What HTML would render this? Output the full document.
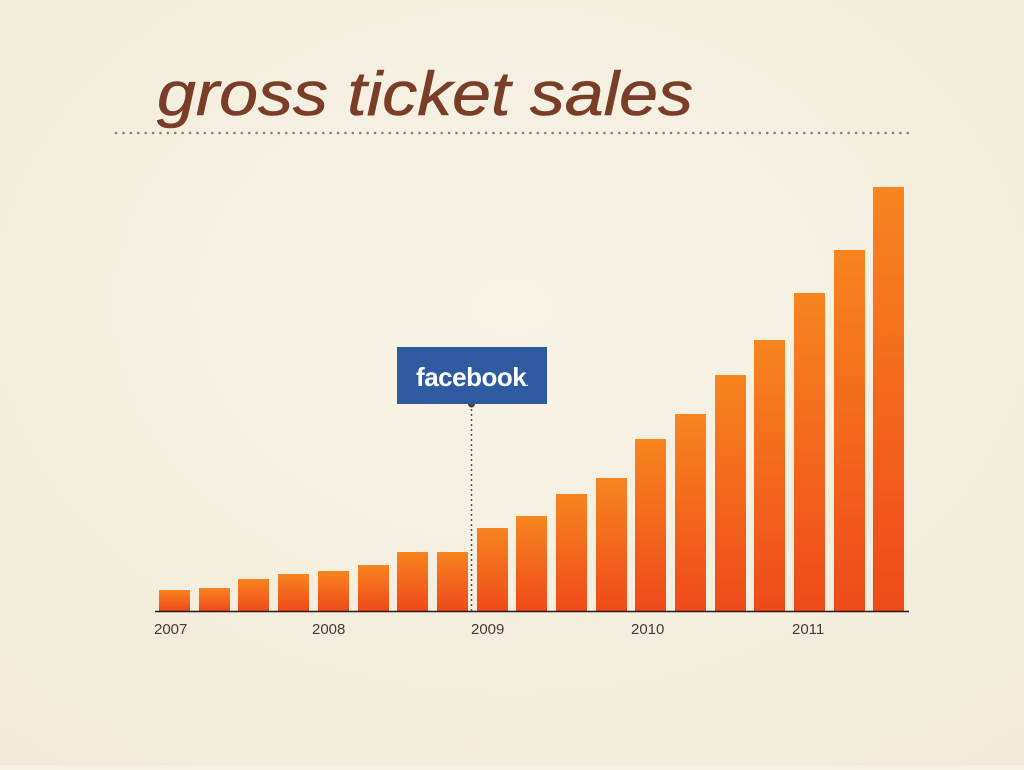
<!DOCTYPE html>
<html><head><style>
body{margin:0;width:1024px;height:765px;background:#f5f0e2;overflow:hidden;font-family:"Liberation Sans",sans-serif}
</style></head><body>
<svg width="1024" height="765" xmlns="http://www.w3.org/2000/svg">
<defs>
<linearGradient id="g" x1="0" y1="0" x2="0" y2="1">
<stop offset="0" stop-color="#f7851f"/><stop offset="1" stop-color="#ef4a1a"/>
</linearGradient>
<radialGradient id="bg" cx="0.5" cy="0.4" r="0.8"><stop offset="0" stop-color="#f7f3e6"/><stop offset="1" stop-color="#f1ead8"/></radialGradient>
</defs>
<rect width="1024" height="765" fill="url(#bg)"/>
<text x="157" y="115" font-family="Liberation Sans, sans-serif" font-style="italic" font-size="62" fill="#7a3e28" stroke="#7a3e28" stroke-width="0.6" textLength="536" lengthAdjust="spacingAndGlyphs">gross ticket sales</text>
<line x1="116" y1="133" x2="910" y2="133" stroke="#8a7f70" stroke-width="2.5" stroke-linecap="round" stroke-dasharray="0.1 7.3"/>
<g fill="url(#g)">
<rect x="159" y="590" width="31" height="21"/>
<rect x="199" y="588" width="31" height="23"/>
<rect x="238" y="579" width="31" height="32"/>
<rect x="278" y="574" width="31" height="37"/>
<rect x="318" y="571" width="31" height="40"/>
<rect x="358" y="565" width="31" height="46"/>
<rect x="397" y="552" width="31" height="59"/>
<rect x="437" y="552" width="31" height="59"/>
<rect x="477" y="528" width="31" height="83"/>
<rect x="516" y="516" width="31" height="95"/>
<rect x="556" y="494" width="31" height="117"/>
<rect x="596" y="478" width="31" height="133"/>
<rect x="635" y="439" width="31" height="172"/>
<rect x="675" y="414" width="31" height="197"/>
<rect x="715" y="375" width="31" height="236"/>
<rect x="754" y="340" width="31" height="271"/>
<rect x="794" y="293" width="31" height="318"/>
<rect x="834" y="250" width="31" height="361"/>
<rect x="873" y="187" width="31" height="424"/>
</g>
<line x1="155" y1="611.5" x2="909" y2="611.5" stroke="#2a1a12" stroke-width="1.5"/>
<line x1="471.5" y1="404" x2="471.5" y2="611" stroke="#555" stroke-width="1.5" stroke-dasharray="2 3"/>
<circle cx="471.5" cy="404" r="3.5" fill="#444"/>
<rect x="397" y="347" width="150" height="57" fill="#2e5aa0"/>
<text x="472" y="386" text-anchor="middle" font-family="Liberation Sans, sans-serif" font-weight="bold" font-size="26" fill="#fff" letter-spacing="-0.5">facebook<tspan font-size="8">.</tspan></text>
<g font-size="15" fill="#4a3a30" font-family="Liberation Sans, sans-serif">
<text x="154" y="634">2007</text><text x="312" y="634">2008</text><text x="471" y="634">2009</text><text x="631" y="634">2010</text><text x="792" y="634">2011</text>
</g>
</svg>
</body></html>
